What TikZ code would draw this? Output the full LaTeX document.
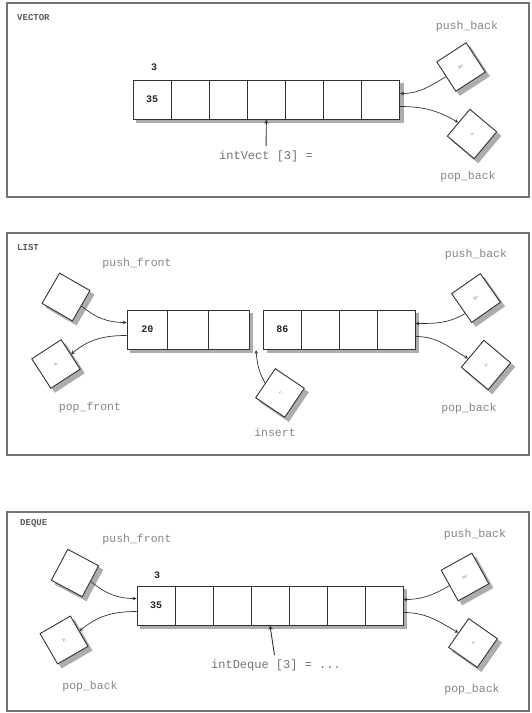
\documentclass[tikz,border=0pt]{standalone}
\usepackage{fontspec}
\setmonofont{Liberation Mono}
\usetikzlibrary{backgrounds}
\newcommand{\castshadow}[1]{\fill[black!32] ([shift={(4pt,-4pt)}]#1.north west) -- ([shift={(4pt,-4pt)}]#1.north east)
  -- ([shift={(4pt,-4pt)}]#1.south east) -- ([shift={(4pt,-4pt)}]#1.south west) -- cycle;}
\newcommand{\rowshadow}[2]{\fill[black!32] ([shift={(3.5pt,-3.5pt)}]#1.north west) rectangle ([shift={(3.5pt,-3.5pt)}]#2.south east);}

\begin{document}
\begin{tikzpicture}[x=1pt,y=1pt,>=stealth,
  panel/.style={draw=black!55,line width=1.4pt},
  title/.style={anchor=west,inner sep=0pt,text=black!65,font=\ttfamily\bfseries\fontsize{9}{10}\selectfont},
  lbl/.style={inner sep=1pt,text=black!48,font=\ttfamily\fontsize{11.5}{13}\selectfont},
  idx/.style={inner sep=4pt,text=black!55,font=\ttfamily\fontsize{12}{14}\selectfont},
  num/.style={inner sep=0pt,text=black!85,font=\ttfamily\bfseries\fontsize{10}{12}\selectfont},
  cell/.style={draw=black!80,line width=0.9pt,fill=white,minimum width=38.1pt,minimum height=39pt,
    inner sep=0pt,text=black!85,font=\ttfamily\bfseries\fontsize{10}{12}\selectfont},
  elem/.style={draw=black!80,line width=0.9pt,fill=white,minimum size=35pt,inner sep=0pt,
    text=black!50,font=\ttfamily\fontsize{5}{6}\selectfont},
  op/.style={->,draw=black!80,line width=0.7pt}]

\useasboundingbox (0,0) rectangle (531,713);

\draw[panel] (7,710) rectangle (529,516);
\draw[panel] (7,480) rectangle (529,258);
\draw[panel] (7,201) rectangle (529,2);

% vector
\node[title] (vtitle) at (17,695) {VECTOR};
\node[num] (vnum) at (154,646) {3};
\node[cell] (v0) at (152.05,613.5) {35};
\foreach \i in {1,...,6}
  \node[cell] (v\i) at (152.05+38.1*\i,613.5) {};
\node[lbl] (vpush) at (467,686) {push\_back};
\node[elem,rotate=33] (pb1) at (461,646) {a=};
\node[elem,rotate=-40] (pp1) at (472,579) {x};
\node[lbl] (vpop) at (468,536) {pop\_back};
\node[idx] (vidx) at (266,557) {intVect [3] =};
\draw[op] (pb1.west) to[out=210,in=0] ([yshift=6pt]v6.east);
\draw[op] ([yshift=-7pt]v6.east) to[out=0,in=150] (pp1.west);
\draw[op,line width=0.9pt] (vidx) -- (v3.south);

% list
\node[title] (ltitle) at (17,465) {LIST};
\node[lbl] (lpushf) at (137,449) {push\_front};
\node[lbl] (lpushb) at (476,458) {push\_back};
\node[cell,minimum width=40.7pt] (l0) at (147.35,383.5) {20};
\foreach \i in {1,2}
  \node[cell,minimum width=40.7pt] (l\i) at (147.35+40.7*\i,383.5) {};
\node[cell,minimum width=37.9pt] (r0) at (282.45,383.5) {86};
\foreach \i in {1,2,3}
  \node[cell,minimum width=37.9pt] (r\i) at (282.45+37.9*\i,383.5) {};
\node[elem,rotate=-30] (pf2) at (66,416) {};
\node[elem,rotate=33] (pp2) at (56,349) {h};
\node[lbl] (lpopf) at (90,305) {pop\_front};
\node[elem,rotate=-34] (ins) at (280,320) {r};
\node[lbl] (lins) at (275,281) {insert};
\coordinate (gap) at (256,363);
\node[elem,rotate=35] (pb2) at (476,415) {a=};
\node[elem,rotate=-40] (pp2b) at (486,348) {x};
\node[lbl] (lpopb) at (469,304) {pop\_back};
\draw[op] (pf2.east) to[out=-40,in=180] ([yshift=7pt]l0.west);
\draw[op] ([yshift=-6pt]l0.west) to[out=180,in=40] (pp2.east);
\draw[op] (ins.west) to[out=120,in=-85] (gap);
\draw[op] (pb2.200) to[out=210,in=0] ([yshift=6pt]r3.east);
\draw[op] ([yshift=-7pt]r3.east) to[out=0,in=150] (pp2b.200);

% deque
\node[title] (dtitle) at (20,190) {DEQUE};
\node[lbl] (dpushf) at (137,173) {push\_front};
\node[lbl] (dpushb) at (475,178) {push\_back};
\node[num] (dnum) at (157,138) {3};
\node[cell,minimum width=38pt] (d0) at (156,107.5) {35};
\foreach \i in {1,...,6}
  \node[cell,minimum width=38pt] (d\i) at (156+38*\i,107.5) {};
\node[elem,rotate=-28] (pf3) at (75,140) {};
\node[elem,rotate=30] (pp3) at (64,73) {h};
\node[lbl] (dpopf) at (90,26) {pop\_back};
\node[elem,rotate=29] (pb3) at (465,136) {a=};
\node[elem,rotate=-35] (pp3b) at (473,70) {x};
\node[lbl] (dpopb) at (472,23) {pop\_back};
\node[idx] (didx) at (276,48) {intDeque [3] = ...};
\draw[op] (pf3.east) to[out=-40,in=180] ([yshift=7pt]d0.west);
\draw[op] ([yshift=-6pt]d0.west) to[out=180,in=40] (pp3.east);
\draw[op] (pb3.west) to[out=210,in=0] ([yshift=6pt]d6.east);
\draw[op] ([yshift=-7pt]d6.east) to[out=0,in=150] (pp3b.west);
\draw[op,line width=0.9pt] (didx) -- (d3.south);

\begin{pgfonlayer}{background}
  \rowshadow{v0}{v6}
  \rowshadow{l0}{l2}
  \rowshadow{r0}{r3}
  \rowshadow{d0}{d6}
  \foreach \b in {pb1,pp1,pf2,pp2,ins,pb2,pp2b,pf3,pp3,pb3,pp3b}
    {\castshadow{\b}}
\end{pgfonlayer}
\end{tikzpicture}
\end{document}
